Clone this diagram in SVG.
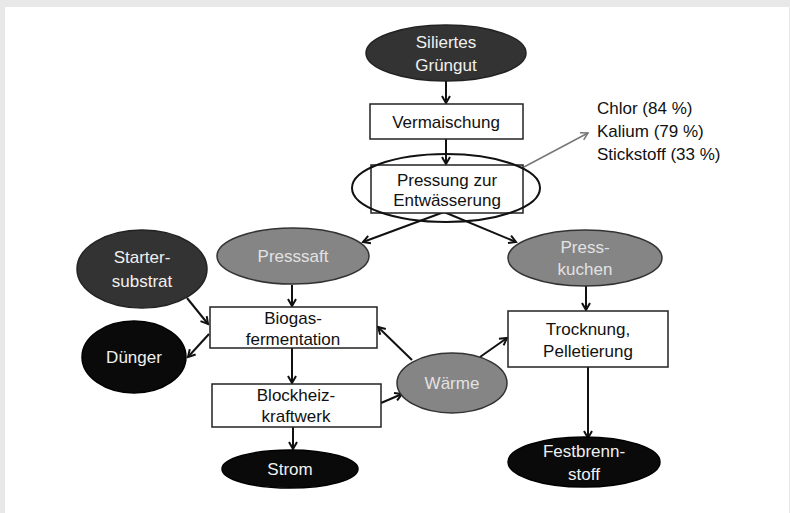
<svg xmlns="http://www.w3.org/2000/svg" width="790" height="513" viewBox="0 0 790 513">
<defs>
<marker id="ah" markerWidth="10" markerHeight="10" refX="8" refY="5" orient="auto" markerUnits="userSpaceOnUse">
<path d="M1,1 L8,5 L1,9" fill="none" stroke="#111" stroke-width="2"/>
</marker>
<marker id="ahg" markerWidth="10" markerHeight="10" refX="8" refY="5" orient="auto" markerUnits="userSpaceOnUse">
<path d="M1,1 L8,5 L1,9" fill="none" stroke="#777" stroke-width="1.5"/>
</marker>
<style>
text{font-family:"Liberation Sans",Arial,sans-serif;font-size:17px;text-anchor:middle;dominant-baseline:central}
.box{fill:#fff;stroke:#222;stroke-width:1.5}
.dark{fill:#333;stroke:#222;stroke-width:1.5}
.black{fill:#0a0a0a;stroke:#000;stroke-width:1.5}
.gray{fill:#858585;stroke:#333;stroke-width:1.5}
.lt{fill:#f0f0f0}
.gt{fill:#e2e2e2}
.bt{fill:#111}
.c{stroke:#111;stroke-width:2;fill:none;marker-end:url(#ah)}
</style>
</defs>
<rect x="0" y="0" width="790" height="513" fill="#e8e8e8"/>
<rect x="5" y="7" width="784" height="506" fill="#fff"/>

<g id="connectors">
<line class="c" x1="446" y1="81" x2="446" y2="103"/>
<line class="c" x1="446" y1="139" x2="446" y2="164"/>
<line x1="524" y1="167" x2="588" y2="133" stroke="#777" stroke-width="1.5" marker-end="url(#ahg)"/>
<line class="c" x1="444" y1="212" x2="363" y2="242"/>
<line class="c" x1="444" y1="212" x2="516" y2="242"/>
<line class="c" x1="292" y1="285" x2="292" y2="306"/>
<line class="c" x1="187" y1="298" x2="208" y2="324"/>
<line class="c" x1="209" y1="334" x2="188" y2="357"/>
<line class="c" x1="292" y1="348" x2="292" y2="383"/>
<line class="c" x1="293" y1="427" x2="293" y2="449"/>
<line class="c" x1="381" y1="403" x2="402" y2="394"/>
<line class="c" x1="412" y1="360" x2="378" y2="327"/>
<line class="c" x1="480" y1="357" x2="507" y2="338"/>
<line class="c" x1="586" y1="285" x2="586" y2="310"/>
<line class="c" x1="588" y1="367" x2="588" y2="438"/>
</g>

<g id="siliertes">
<ellipse class="dark" cx="446" cy="53" rx="80" ry="28"/>
<text class="lt" x="446" y="42">Siliertes</text>
<text class="lt" x="446" y="65">Grüngut</text>
</g>
<g id="vermaischung">
<rect class="box" x="370" y="104" width="153" height="35"/>
<text class="bt" x="446" y="122">Vermaischung</text>
</g>
<g id="pressung">
<rect class="box" x="371" y="165" width="152" height="48"/>
<text class="bt" x="447" y="180">Pressung zur</text>
<text class="bt" x="447" y="200">Entwässerung</text>
<ellipse cx="446" cy="188" rx="94" ry="34" fill="none" stroke="#111" stroke-width="2"/>
</g>
<g id="naehrstoffe">
<text class="bt" x="597" y="108" style="text-anchor:start">Chlor (84 %)</text>
<text class="bt" x="597" y="131" style="text-anchor:start">Kalium (79 %)</text>
<text class="bt" x="597" y="154" style="text-anchor:start">Stickstoff (33 %)</text>
</g>
<g id="presssaft">
<ellipse class="gray" cx="293" cy="256" rx="76" ry="28"/>
<text class="gt" x="293" y="256">Presssaft</text>
</g>
<g id="presskuchen">
<ellipse class="gray" cx="585" cy="258" rx="77" ry="28"/>
<text class="gt" x="585" y="247">Press-</text>
<text class="gt" x="585" y="269">kuchen</text>
</g>
<g id="starter">
<ellipse class="dark" cx="142" cy="269" rx="65" ry="39"/>
<text class="lt" x="142" y="257">Starter-</text>
<text class="lt" x="142" y="281">substrat</text>
</g>
<g id="duenger">
<ellipse class="black" cx="134" cy="357" rx="52" ry="36"/>
<text class="lt" x="134" y="357">Dünger</text>
</g>
<g id="biogas">
<rect class="box" x="210" y="307" width="167" height="41"/>
<text class="bt" x="293" y="318">Biogas-</text>
<text class="bt" x="293" y="339">fermentation</text>
</g>
<g id="bhkw">
<rect class="box" x="212" y="384" width="169" height="43"/>
<text class="bt" x="296" y="395">Blockheiz-</text>
<text class="bt" x="296" y="416">kraftwerk</text>
</g>
<g id="strom">
<ellipse class="black" cx="290" cy="469" rx="68" ry="19"/>
<text class="lt" x="290" y="469">Strom</text>
</g>
<g id="waerme">
<ellipse class="gray" cx="452" cy="383" rx="55" ry="30"/>
<text class="gt" x="452" y="383">Wärme</text>
</g>
<g id="trocknung">
<rect class="box" x="508" y="311" width="160" height="56"/>
<text class="bt" x="588" y="329">Trocknung,</text>
<text class="bt" x="588" y="351">Pelletierung</text>
</g>
<g id="festbrennstoff">
<ellipse class="black" cx="584" cy="462" rx="76" ry="25"/>
<text class="lt" x="584" y="451">Festbrenn-</text>
<text class="lt" x="584" y="474">stoff</text>
</g>
</svg>
